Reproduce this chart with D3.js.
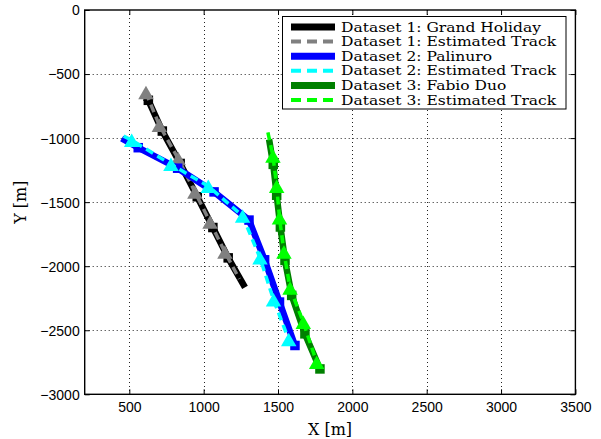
<!DOCTYPE html>
<html>
<head>
<meta charset="utf-8">
<script src="https://cdn.jsdelivr.net/npm/d3@7/dist/d3.min.js"></script>
<style>
  html, body { margin: 0; padding: 0; background: #fff; }
  svg { display: block; }
</style>
</head>
<body>
<svg id="chart" width="601" height="439"></svg>
<script>
// ---- axis ticks ----
const xTicks = [500, 1000, 1500, 2000, 2500, 3000, 3500];
const yTicks = [0, -500, -1000, -1500, -2000, -2500, -3000];

// ---- legend labels ----
const legendLabels = [
  "Dataset 1: Grand Holiday",
  "Dataset 1: Estimated Track",
  "Dataset 2: Palinuro",
  "Dataset 2: Estimated Track",
  "Dataset 3: Fabio Duo",
  "Dataset 3: Estimated Track"
];

// ---- Dataset 1: Grand Holiday (X, Y in metres) ----
const grandHolidayTrack = [[605, -685], [628, -705], [722, -945], [842, -1198], [957, -1458], [1062, -1698], [1165, -1935], [1278, -2165]];
const grandHolidayFixes = [[628, -705], [722, -945], [842, -1198], [957, -1458], [1062, -1698], [1165, -1935]];
const grandHolidayEst = [[612, -645], [702, -900], [829, -1160], [941, -1420], [1043, -1655], [1143, -1890], [1240, -2100]];
const grandHolidayEstFixes = [[612, -645], [702, -900], [829, -1160], [941, -1420], [1043, -1655], [1143, -1890]];

// ---- Dataset 2: Palinuro ----
const palinuroTrack = [[449, -1003], [560, -1075], [825, -1235], [1070, -1420], [1305, -1640], [1410, -1950], [1510, -2280], [1614, -2619]];
const palinuroFixes = [[560, -1075], [825, -1235], [1070, -1420], [1305, -1640], [1410, -1950], [1510, -2280], [1614, -2619]];
const palinuroEst = [[462, -985], [516, -1016], [780, -1205], [1031, -1375], [1262, -1608], [1379, -1935], [1470, -2262], [1572, -2572]];
const palinuroEstFixes = [[516, -1016], [780, -1205], [1031, -1375], [1262, -1608], [1379, -1935], [1470, -2262], [1572, -2572]];

// ---- Dataset 3: Fabio Duo ----
const fabioDuoTrack = [[1440, -1010], [1468, -1205], [1491, -1446], [1516, -1694], [1547, -1955], [1592, -2228], [1681, -2528], [1782, -2802]];
const fabioDuoFixes = [[1468, -1205], [1491, -1446], [1516, -1694], [1547, -1955], [1592, -2228], [1681, -2528], [1782, -2802]];
const fabioDuoEst = [[1432, -955], [1466, -1140], [1491, -1375], [1510, -1622], [1540, -1890], [1581, -2170], [1670, -2437], [1760, -2750], [1775, -2790]];
const fabioDuoEstFixes = [[1466, -1140], [1491, -1375], [1510, -1622], [1540, -1890], [1581, -2170], [1670, -2437], [1760, -2750]];

const datasets = [
  { track: grandHolidayTrack, fixes: grandHolidayFixes, est: grandHolidayEst, estFixes: grandHolidayEstFixes, color: "#000000", estColor: "#808080" },
  { track: palinuroTrack, fixes: palinuroFixes, est: palinuroEst, estFixes: palinuroEstFixes, color: "#0000ff", estColor: "#00ffff" },
  { track: fabioDuoTrack, fixes: fabioDuoFixes, est: fabioDuoEst, estFixes: fabioDuoEstFixes, color: "#008000", estColor: "#00ff00" }
];

// ---- layout ----
const plot = { left: 84.7, right: 575.4, top: 10, bottom: 394.3 };
const svg = d3.select("#chart");

const x = d3.scaleLinear().domain([200, 3500]).range([plot.left, plot.right]);
const y = d3.scaleLinear().domain([-3000, 0]).range([plot.bottom, plot.top]);
const fmt = d3.format("d");
const tickFont = "'Liberation Sans', Arial, Helvetica, sans-serif";
const serifFont = "'DejaVu Serif', 'Liberation Serif', serif";

// dotted grid
const grid = svg.append("g").attr("stroke", "#222").attr("stroke-width", 1).attr("stroke-dasharray", "1,3");
grid.selectAll("line.gx").data(xTicks.filter(d => d < 3500)).join("line")
  .attr("x1", d => Math.round(x(d)) + 0.5).attr("x2", d => Math.round(x(d)) + 0.5)
  .attr("y1", plot.top).attr("y2", plot.bottom);
grid.selectAll("line.gy").data(yTicks.filter(d => d > -3000 && d < 0)).join("line")
  .attr("y1", d => Math.round(y(d)) + 0.5).attr("y2", d => Math.round(y(d)) + 0.5)
  .attr("x1", plot.left).attr("x2", plot.right);

// tracks
const line = d3.line().x(d => x(d[0])).y(d => y(d[1]));

function triangle(w, h) {
  return {
    draw(ctx) {
      ctx.moveTo(0, -h / 2);
      ctx.lineTo(w / 2, h / 2);
      ctx.lineTo(-w / 2, h / 2);
      ctx.closePath();
    }
  };
}
const triPath = d3.symbol().type(triangle(15.5, 13.5))();
const sq = 9.5;

const marks = svg.append("g");
datasets.forEach(ds => {
  const g = marks.append("g");
  g.append("path").datum(ds.track)
    .attr("d", line).attr("fill", "none").attr("stroke", ds.color)
    .attr("stroke-width", 6.5).attr("stroke-linejoin", "miter").attr("stroke-linecap", "butt");
  g.selectAll("rect").data(ds.fixes).join("rect")
    .attr("x", d => x(d[0]) - sq / 2).attr("y", d => y(d[1]) - sq / 2)
    .attr("width", sq).attr("height", sq).attr("fill", ds.color);
  g.append("path").datum(ds.est)
    .attr("d", line).attr("fill", "none").attr("stroke", ds.estColor)
    .attr("stroke-width", 3.5).attr("stroke-dasharray", "8,5");
  g.selectAll("path.tri").data(ds.estFixes).join("path").attr("class", "tri")
    .attr("d", triPath)
    .attr("transform", d => `translate(${x(d[0])},${y(d[1])})`)
    .attr("fill", ds.estColor);
});

// axes with inward ticks on all four sides
const tick = 5;
const axB = svg.append("g").attr("transform", `translate(0,${plot.bottom})`)
  .call(d3.axisBottom(x).tickValues(xTicks).tickSize(-tick).tickPadding(8).tickFormat(fmt));
const axT = svg.append("g").attr("transform", `translate(0,${plot.top})`)
  .call(d3.axisTop(x).tickValues(xTicks).tickSize(-tick).tickFormat(""));
const axL = svg.append("g").attr("transform", `translate(${plot.left},0)`)
  .call(d3.axisLeft(y).tickValues(yTicks).tickSize(-tick).tickPadding(5).tickFormat(d3.format("d")));
const axR = svg.append("g").attr("transform", `translate(${plot.right},0)`)
  .call(d3.axisRight(y).tickValues(yTicks).tickSize(-tick).tickFormat(""));
[axB, axT, axL, axR].forEach(a => {
  a.select(".domain").remove();
  a.selectAll(".tick line").attr("stroke", "#000").attr("stroke-width", 1);
  a.selectAll("text").attr("font-family", tickFont).attr("font-size", 14).attr("fill", "#000");
});
axL.selectAll("text").attr("dy", "0.35em");

svg.append("rect")
  .attr("x", plot.left).attr("y", plot.top)
  .attr("width", plot.right - plot.left).attr("height", plot.bottom - plot.top)
  .attr("fill", "none").attr("stroke", "#000").attr("stroke-width", 1.4);

// axis titles
svg.append("text").text("X [m]")
  .attr("x", (plot.left + plot.right) / 2).attr("y", 435)
  .attr("text-anchor", "middle").attr("font-family", serifFont).attr("font-size", 16).attr("fill", "#000");
svg.append("text").text("Y [m]")
  .attr("transform", `translate(26,${(plot.top + plot.bottom) / 2}) rotate(-90)`)
  .attr("text-anchor", "middle").attr("font-family", serifFont).attr("font-size", 16).attr("fill", "#000");

// legend: compact rows, labels widened to the full column
const legend = svg.append("g");
legend.append("rect").attr("x", 282.5).attr("y", 16.5).attr("width", 283.5).attr("height", 92.5)
  .attr("fill", "#fff").attr("stroke", "#000").attr("stroke-width", 1);
const legendStyles = datasets.flatMap(ds => [
  { color: ds.color, width: 7, dash: null },
  { color: ds.estColor, width: 4, dash: "10,6" }
]);
const legendFont = 12.5, widen = 15.5 / 12.5;
legendLabels.forEach((label, i) => {
  const cy = 27 + i * 14.6;
  const st = legendStyles[i];
  legend.append("line").attr("x1", 291).attr("x2", 335).attr("y1", cy).attr("y2", cy)
    .attr("stroke", st.color).attr("stroke-width", st.width)
    .attr("stroke-dasharray", st.dash);
  const t = legend.append("text").text(label).attr("x", 341).attr("y", cy + 4.6)
    .attr("font-family", serifFont).attr("font-size", legendFont).attr("fill", "#000");
  const w = t.node().getComputedTextLength();
  t.attr("textLength", w * widen).attr("lengthAdjust", "spacingAndGlyphs");
});
</script>
</body>
</html>
